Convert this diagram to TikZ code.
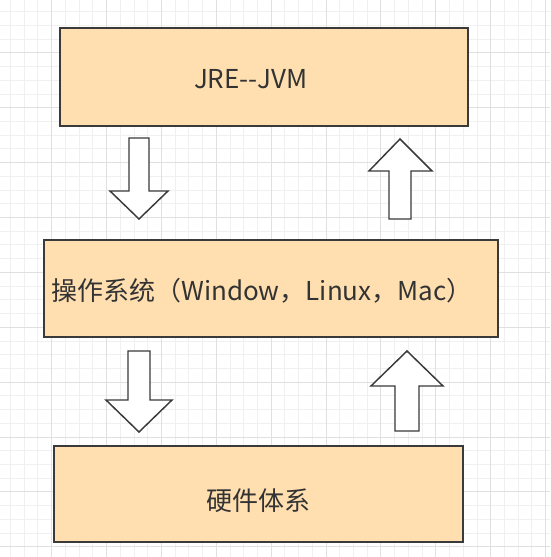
\documentclass[tikz,border=0pt]{standalone}
\usepackage{fontspec}
\setmainfont{Noto Sans CJK SC}
\definecolor{boxfill}{RGB}{255,223,176}
\definecolor{linegray}{RGB}{58,58,58}
\definecolor{textgray}{RGB}{51,51,51}
\definecolor{gridminor}{RGB}{240,240,240}
\definecolor{gridmajor}{RGB}{224,224,224}

\begin{document}
\begin{tikzpicture}[x=0.75pt,y=-0.75pt,
    layer/.style={draw=linegray, fill=boxfill, line width=1.2pt, inner sep=0pt},
    txt/.style={text=textgray, font=\fontsize{19.5}{23}\selectfont, inner sep=0pt},
    blockarrow/.style={draw=linegray, fill=white, line width=1.1pt, line join=miter}]
    \useasboundingbox (0,0) rectangle (550,557);
    \fill[white] (0,0) rectangle (550,557);
    % background grid
    \foreach \i in {0,...,41} {
      \draw[gridminor, line width=0.75pt] (-3.2+13.72*\i,0) -- (-3.2+13.72*\i,557);
      \draw[gridminor, line width=0.75pt] (0,-2+13.72*\i) -- (550,-2+13.72*\i);
    }
    \foreach \i in {0,...,11} {
      \draw[gridmajor, line width=0.75pt] (-3.2+54.88*\i,0) -- (-3.2+54.88*\i,557);
      \draw[gridmajor, line width=0.75pt] (0,-2+54.88*\i) -- (550,-2+54.88*\i);
    }
    % the three layers
    \node[layer, minimum width=306pt, minimum height=73.5pt,
      label={[txt, xshift=-10pt, yshift=-1.5pt]center:JRE-\kern0pt-JVM}] (jre) at (264,77) {};
    \node[layer, minimum width=340.5pt, minimum height=72.75pt,
      label={[txt, xshift=-6.75pt, yshift=-1.5pt]center:操作系统（Window，Linux，Mac）}] (os) at (271,288.5) {};
    \node[layer, minimum width=306.75pt, minimum height=72pt,
      label={[txt, yshift=-4.9pt]center:硬件体系}] (hw) at (258.5,494) {};
    % down arrows
    \draw[blockarrow] (129,138) -- (149,138) -- (149,191) -- (168,191) -- (139,219)
      -- (110,191) -- (129,191) -- cycle;
    \draw[blockarrow] (128,351) -- (150,351) -- (150,400) -- (172,400) -- (139,432)
      -- (106,400) -- (128,400) -- cycle;
    % up arrows
    \draw[blockarrow] (389,219) -- (411,219) -- (411,171) -- (432,171) -- (400,139)
      -- (369,171) -- (389,171) -- cycle;
    \draw[blockarrow] (395,431) -- (419,431) -- (419,386) -- (443,386) -- (407,351)
      -- (371,386) -- (395,386) -- cycle;
\end{tikzpicture}
\end{document}
